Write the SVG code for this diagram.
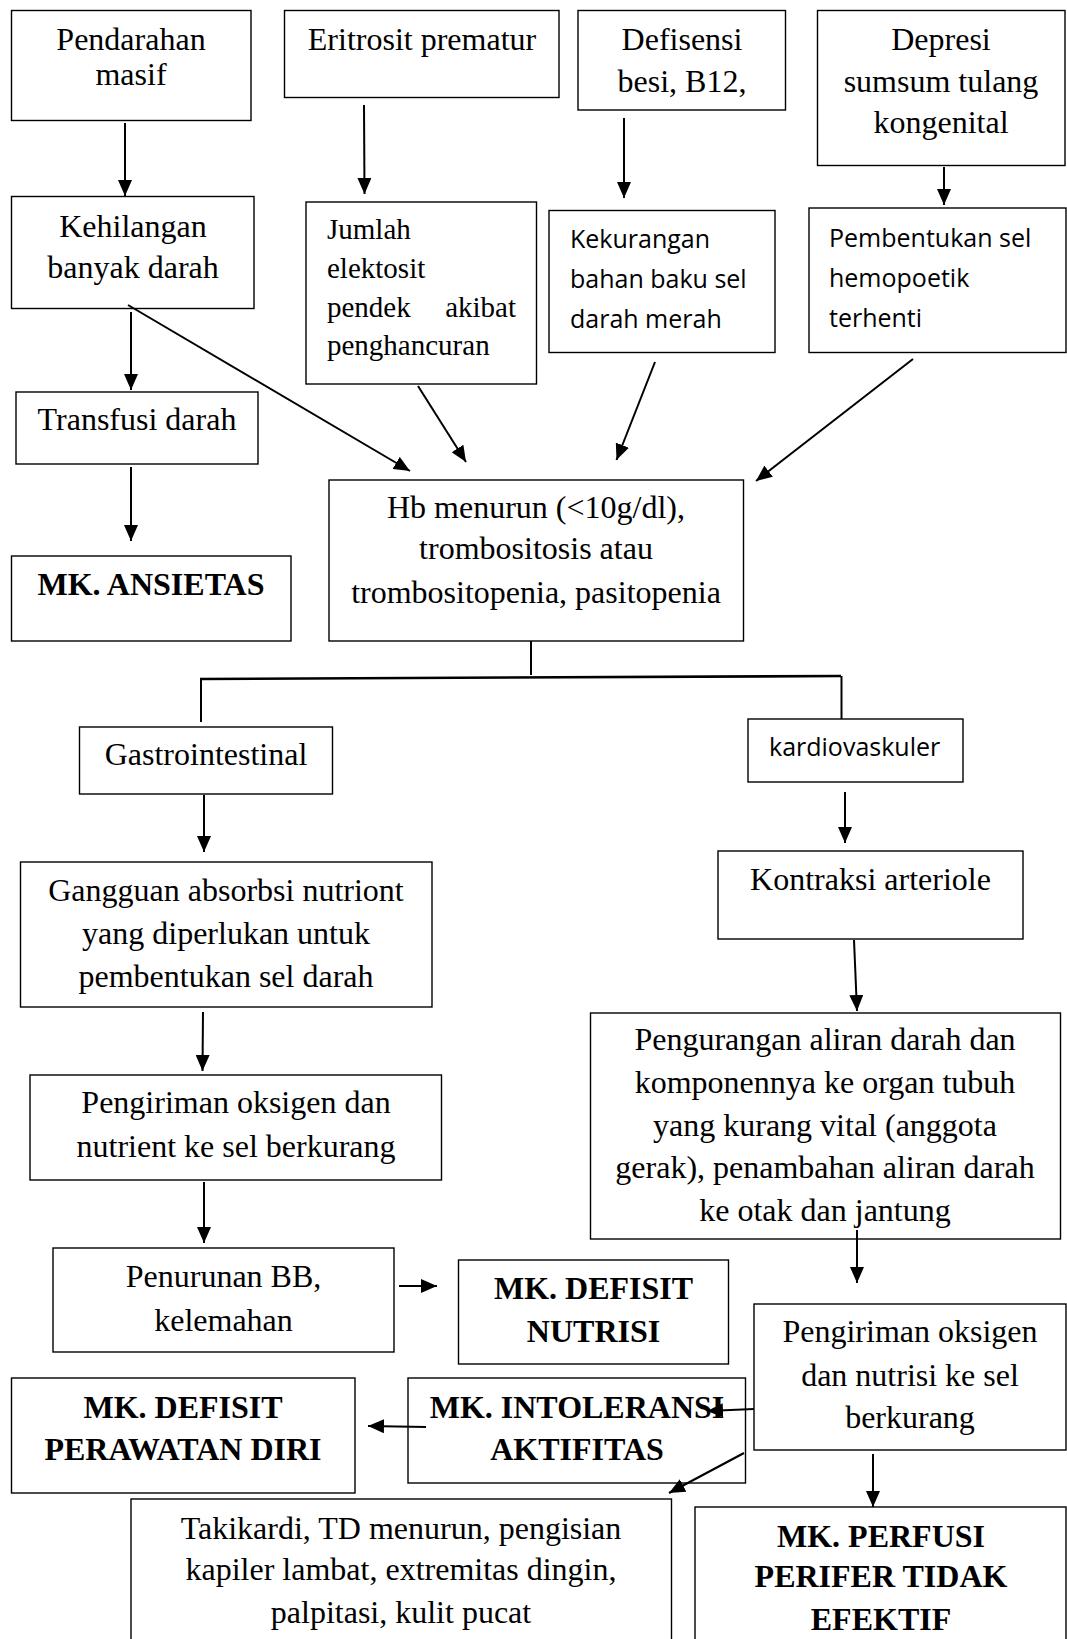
<svg xmlns="http://www.w3.org/2000/svg" width="1067" height="1639" viewBox="0 0 1067 1639">
<defs>
<marker id="ah" markerUnits="userSpaceOnUse" markerWidth="16" markerHeight="14" refX="16" refY="7" orient="auto">
<path d="M0,0 L16,7 L0,14 z" fill="#000"/>
</marker>
<style>
rect{fill:#fff;stroke:#000;stroke-width:1.4}
text{font-family:"Liberation Serif","Times New Roman",serif;font-size:32px;fill:#000;text-anchor:middle}
.b{font-weight:bold}
.s{font-family:"Open Sans","Noto Sans",sans-serif;font-size:25px;text-anchor:start}
.l{text-anchor:start;font-size:29px}
.e{text-anchor:end;font-size:29px}
.c line,.c polyline{stroke:#000;stroke-width:2;fill:none}
.c .a{marker-end:url(#ah)}
</style>
</defs>
<rect x="0" y="0" width="1067" height="1639" style="stroke:none"/>

<g id="n1"><rect x="11.5" y="10.5" width="239.5" height="110"/><text x="131" y="50">Pendarahan</text><text x="131" y="85">masif</text></g>
<g id="n2"><rect x="284.5" y="10.5" width="274.5" height="87"/><text x="422" y="50">Eritrosit prematur</text></g>
<g id="n3"><rect x="578" y="10.5" width="207.5" height="99.5"/><text x="682" y="50">Defisensi</text><text x="682" y="92">besi, B12,</text></g>
<g id="n4"><rect x="817.5" y="10.5" width="247.5" height="155"/><text x="941" y="50">Depresi</text><text x="941" y="92">sumsum tulang</text><text x="941" y="133">kongenital</text></g>

<g id="n5"><rect x="11.5" y="196.5" width="242.5" height="112"/><text x="133" y="237">Kehilangan</text><text x="133" y="278">banyak darah</text></g>
<g id="n6"><rect x="306" y="202" width="230.5" height="182"/><text class="l" x="327" y="239">Jumlah</text><text class="l" x="327" y="278">elektosit</text><text class="l" x="327" y="317">pendek</text><text class="e" x="516" y="317">akibat</text><text class="l" x="327" y="355">penghancuran</text></g>
<g id="n7"><rect x="549" y="210.5" width="226" height="142"/><text class="s" x="570" y="248">Kekurangan</text><text class="s" x="570" y="288">bahan baku sel</text><text class="s" x="570" y="328">darah merah</text></g>
<g id="n8"><rect x="809" y="208" width="257" height="144.5"/><text class="s" x="829" y="247">Pembentukan sel</text><text class="s" x="829" y="287">hemopoetik</text><text class="s" x="829" y="327">terhenti</text></g>

<g id="n9"><rect x="16" y="392" width="242" height="72"/><text x="137" y="430">Transfusi darah</text></g>
<g id="n10"><rect x="11.5" y="556" width="279.5" height="85"/><text class="b" x="151" y="595">MK. ANSIETAS</text></g>
<g id="n11"><rect x="329" y="480" width="414.5" height="161"/><text x="536" y="518">Hb menurun (&lt;10g/dl),</text><text x="536" y="559">trombositosis atau</text><text x="536" y="603">trombositopenia, pasitopenia</text></g>

<g id="n12"><rect x="79.5" y="727" width="253" height="67"/><text x="206" y="765">Gastrointestinal</text></g>
<g id="n13"><rect x="748" y="719" width="215" height="63"/><text class="s" x="769" y="756">kardiovaskuler</text></g>
<g id="n14"><rect x="20.5" y="862" width="411.5" height="145"/><text x="226" y="901">Gangguan absorbsi nutriont</text><text x="226" y="944">yang diperlukan untuk</text><text x="226" y="987">pembentukan sel darah</text></g>
<g id="n15"><rect x="718" y="851" width="305" height="88"/><text x="870.5" y="890">Kontraksi arteriole</text></g>
<g id="n16"><rect x="30" y="1075" width="411.5" height="105"/><text x="236" y="1113">Pengiriman oksigen dan</text><text x="236" y="1157">nutrient ke sel berkurang</text></g>
<g id="n17"><rect x="590.5" y="1013" width="470" height="226"/><text x="825" y="1050">Pengurangan aliran darah dan</text><text x="825" y="1093">komponennya ke organ tubuh</text><text x="825" y="1136">yang kurang vital (anggota</text><text x="825" y="1178">gerak), penambahan aliran darah</text><text x="825" y="1221">ke otak dan jantung</text></g>

<g id="n18"><rect x="53" y="1248" width="341" height="104"/><text x="223.5" y="1287">Penurunan BB,</text><text x="223.5" y="1331">kelemahan</text></g>
<g id="n19"><rect x="458.5" y="1260" width="270" height="104"/><text class="b" x="593.5" y="1299">MK. DEFISIT</text><text class="b" x="593.5" y="1342">NUTRISI</text></g>
<g id="n20"><rect x="754" y="1304" width="312" height="146"/><text x="910" y="1342">Pengiriman oksigen</text><text x="910" y="1386">dan nutrisi ke sel</text><text x="910" y="1428">berkurang</text></g>
<g id="n21"><rect x="11.5" y="1378" width="343.5" height="115"/><text class="b" x="183" y="1418">MK. DEFISIT</text><text class="b" x="183" y="1460">PERAWATAN DIRI</text></g>
<g id="n22"><rect x="408" y="1378" width="337.5" height="105"/><text class="b" x="577" y="1418">MK. INTOLERANSI</text><text class="b" x="577" y="1460">AKTIFITAS</text></g>
<g id="n23"><rect x="131" y="1499" width="540.5" height="160"/><text x="401" y="1539">Takikardi, TD menurun, pengisian</text><text x="401" y="1580">kapiler lambat, extremitas dingin,</text><text x="401" y="1623">palpitasi, kulit pucat</text></g>
<g id="n24"><rect x="695" y="1507" width="371" height="160"/><text class="b" x="881" y="1547">MK. PERFUSI</text><text class="b" x="881" y="1587">PERIFER TIDAK</text><text class="b" x="881" y="1630">EFEKTIF</text></g>

<g id="connectors" class="c">
<line class="a" x1="125" y1="123" x2="125" y2="196"/>
<line class="a" x1="364" y1="105" x2="364.5" y2="194"/>
<line class="a" x1="624" y1="118" x2="624" y2="198"/>
<line class="a" x1="944" y1="167" x2="944" y2="205"/>
<line class="a" x1="131" y1="312" x2="131" y2="390"/>
<line class="a" x1="128" y1="305" x2="410" y2="471"/>
<line class="a" x1="418" y1="386" x2="466" y2="462"/>
<line class="a" x1="655" y1="362" x2="616.5" y2="460"/>
<line class="a" x1="913" y1="359" x2="756" y2="481"/>
<line class="a" x1="131" y1="467" x2="131" y2="541"/>
<line x1="531" y1="641" x2="531" y2="675"/>
<line x1="200" y1="679" x2="841" y2="676" style="stroke-width:2.6"/>
<line x1="201" y1="678" x2="201" y2="722"/>
<line x1="841.5" y1="676" x2="841.5" y2="719"/>
<line class="a" x1="204" y1="795" x2="204" y2="852"/>
<line class="a" x1="845" y1="792" x2="845" y2="843"/>
<line class="a" x1="854" y1="940" x2="857" y2="1011"/>
<line class="a" x1="203" y1="1012" x2="202.5" y2="1071"/>
<line class="a" x1="204" y1="1182" x2="204" y2="1243"/>
<line class="a" x1="399" y1="1286" x2="437" y2="1286"/>
<line class="a" x1="857" y1="1230" x2="857" y2="1283"/>
<line class="a" x1="754" y1="1409" x2="707" y2="1411"/>
<line class="a" x1="426" y1="1427" x2="368" y2="1426"/>
<line class="a" x1="744" y1="1453" x2="669" y2="1493"/>
<line class="a" x1="873" y1="1454" x2="873" y2="1507"/>
</g>
</svg>
